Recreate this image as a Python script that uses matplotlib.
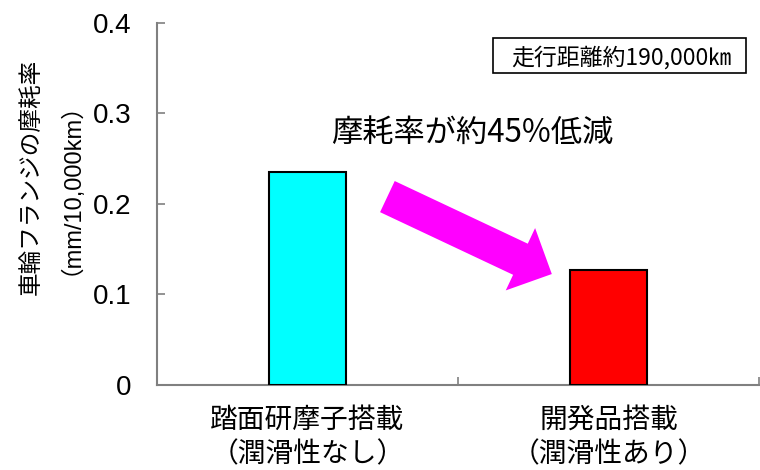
import matplotlib
matplotlib.use("Agg")
import matplotlib.pyplot as plt
import matplotlib.patches as mpatches
from matplotlib.transforms import IdentityTransform

# data
categories = ["踏面研摩子搭載\n（潤滑性なし）", "開発品搭載\n（潤滑性あり）"]
wear_rate = [0.235, 0.127]
bar_colors = ["#00FFFF", "#FF0000"]
y_ticks = [0, 0.1, 0.2, 0.3, 0.4]
y_tick_labels = ["0", "0.1", "0.2", "0.3", "0.4"]

jp = ["Noto Sans CJK JP", "DejaVu Sans"]
latin_jp = ["Liberation Sans", "Noto Sans CJK JP"]
gray = "#808080"

fig = plt.figure(figsize=(7.6, 4.7), dpi=100)
ax = fig.add_axes([0.2062, 0.1809, 0.7925, 0.7708])

x = range(len(categories))
ax.bar(x, wear_rate, width=0.255, color=bar_colors, edgecolor="black", linewidth=1.5, zorder=3)

ax.set_xlim(-0.5, 1.5)
ax.set_ylim(0, 0.4)

for s in ["top", "right"]:
    ax.spines[s].set_visible(False)
for s in ["left", "bottom"]:
    ax.spines[s].set_color(gray)
    ax.spines[s].set_linewidth(1.5)

ax.set_yticks(y_ticks)
ax.set_yticklabels(y_tick_labels, fontfamily="Liberation Sans", fontsize=20)
ax.tick_params(axis="y", direction="in", length=6, width=1.2, color=gray, pad=18)

ax.set_xticks([-0.5, 0.5, 1.5])
ax.set_xticklabels([])
ax.set_xticks(list(x), minor=True)
ax.set_xticklabels(categories, minor=True, fontfamily=jp, fontsize=20, linespacing=1.22)
ax.tick_params(axis="x", which="major", direction="in", length=6, width=1.2, color=gray)
ax.tick_params(axis="x", which="minor", length=0, pad=14)

# y label
fig.text(46 / 760, 1 - 177 / 470, "車輪フランジの摩耗率\n（mm/10,000km）", rotation=90,
         ha="center", va="center", fontsize=17, family=latin_jp, linespacing=1.25,
         multialignment="center")

# annotation text
ax.text(0.547, 0.278, "摩耗率が約45%低減", ha="center", va="center", fontsize=22.5, family=jp)

# distance box
ax.add_patch(mpatches.Rectangle((0.558, 0.861), 0.42, 0.097, transform=ax.transAxes,
                                facecolor="white", edgecolor="black", linewidth=1.2, zorder=4))
ax.text(0.771, 0.903, "走行距離約190,000㎞", transform=ax.transAxes, ha="center", va="center",
        fontsize=16.5, family=jp, zorder=5)

# arrow between the bars
fig.canvas.draw()
tail = ax.transData.transform((0.266, 0.208))
tip = ax.transData.transform((0.812, 0.1225))
arrow = mpatches.FancyArrow(tail[0], tail[1], tip[0] - tail[0], tip[1] - tail[1],
                            width=34.4, head_width=68.9, head_length=34.7,
                            length_includes_head=True, color="#FF00FF", linewidth=0,
                            transform=IdentityTransform())
fig.add_artist(arrow)

fig.savefig("out.png", dpi=100)
